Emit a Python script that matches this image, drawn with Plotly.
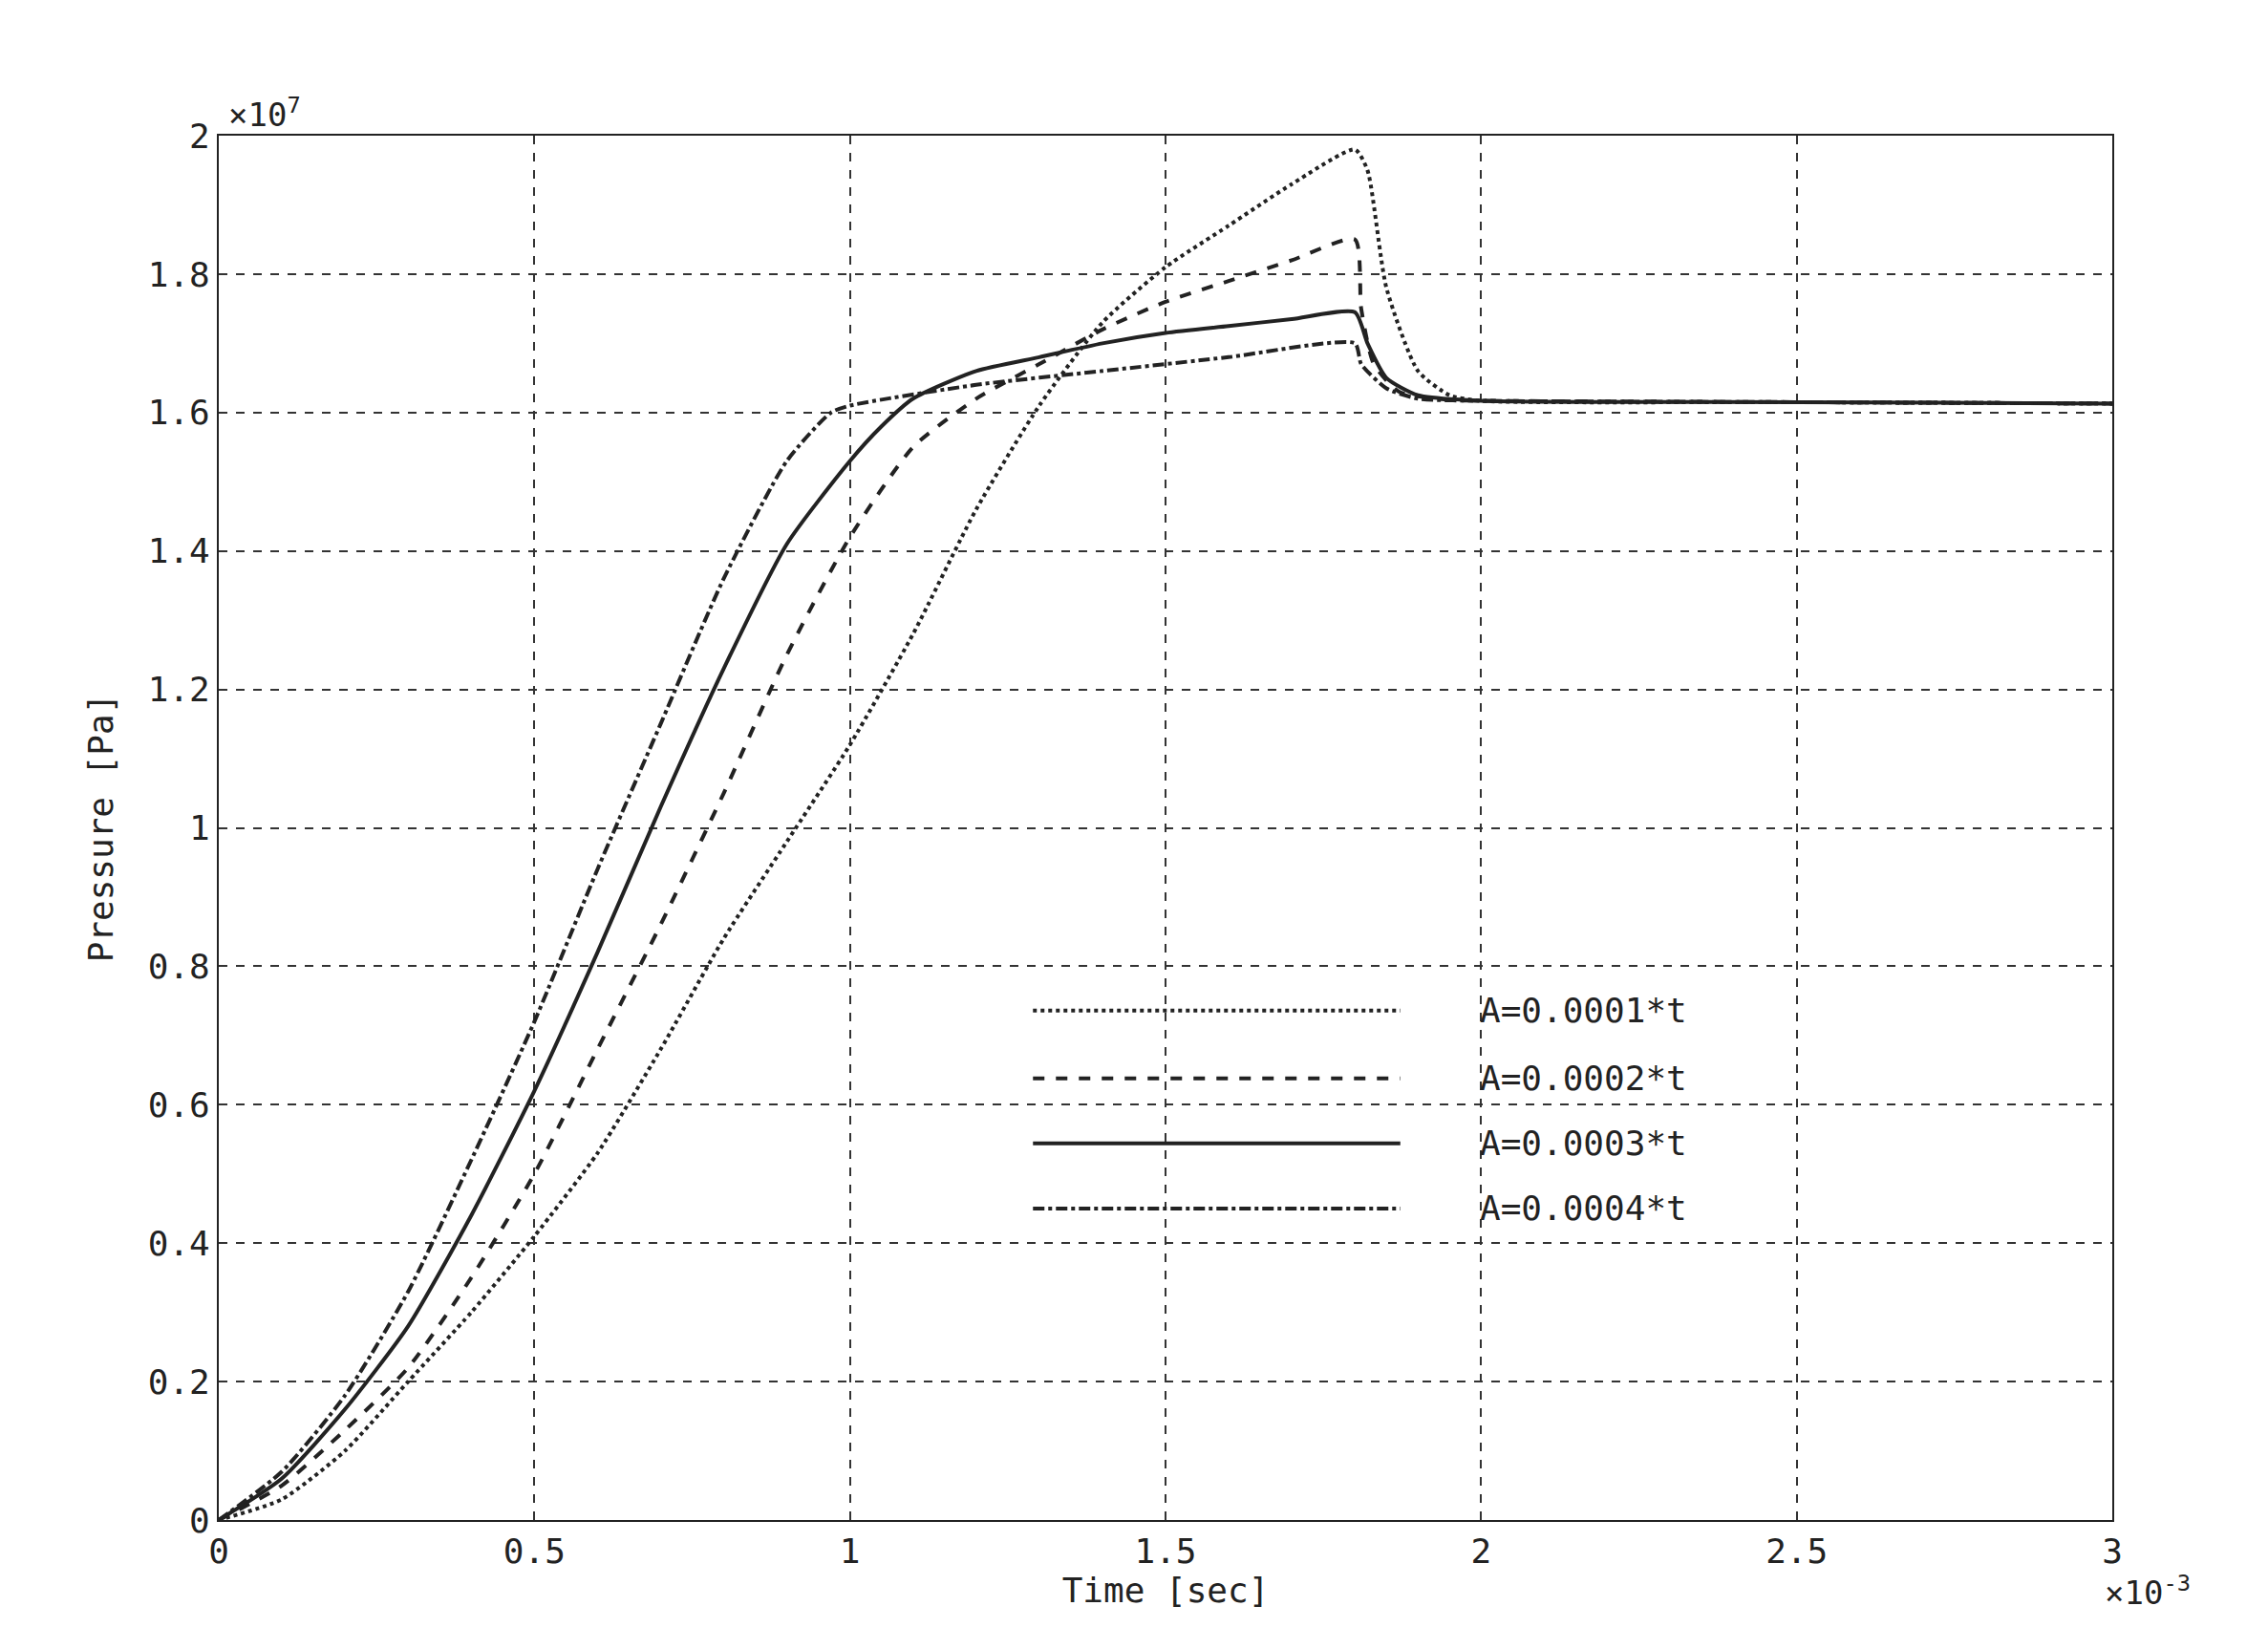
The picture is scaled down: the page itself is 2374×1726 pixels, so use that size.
import plotly.graph_objects as go

# time in 1e-3 s, pressure in 1e7 Pa
t1 = [0, 0.1, 0.2, 0.3, 0.4, 0.5, 0.6, 0.7, 0.8, 0.9, 1.0, 1.1, 1.2, 1.3, 1.4, 1.5, 1.6, 1.7, 1.8, 1.82, 1.85, 1.9, 1.95, 2.0, 2.5, 3.0]
p1 = [0, 0.03, 0.1, 0.2, 0.3, 0.41, 0.53, 0.68, 0.84, 0.98, 1.12, 1.28, 1.46, 1.61, 1.73, 1.81, 1.87, 1.93, 1.98, 1.95, 1.78, 1.66, 1.625, 1.617, 1.615, 1.613]

t2 = [0, 0.1, 0.2, 0.3, 0.4, 0.5, 0.6, 0.7, 0.8, 0.9, 1.0, 1.1, 1.2, 1.3, 1.4, 1.5, 1.6, 1.7, 1.8, 1.81, 1.83, 1.87, 1.95, 2.0, 2.5, 3.0]
p2 = [0, 0.05, 0.13, 0.22, 0.35, 0.5, 0.68, 0.86, 1.05, 1.25, 1.42, 1.55, 1.62, 1.67, 1.72, 1.76, 1.79, 1.82, 1.85, 1.75, 1.67, 1.63, 1.618, 1.617, 1.615, 1.613]

t3 = [0, 0.1, 0.2, 0.3, 0.4, 0.5, 0.6, 0.7, 0.8, 0.9, 1.0, 1.05, 1.1, 1.2, 1.3, 1.4, 1.5, 1.6, 1.7, 1.8, 1.82, 1.85, 1.9, 2.0, 2.5, 3.0]
p3 = [0, 0.06, 0.16, 0.28, 0.44, 0.62, 0.82, 1.03, 1.23, 1.41, 1.53, 1.58, 1.62, 1.66, 1.68, 1.70, 1.715, 1.725, 1.735, 1.745, 1.70, 1.65, 1.625, 1.617, 1.615, 1.613]

t4 = [0, 0.1, 0.2, 0.3, 0.4, 0.5, 0.6, 0.7, 0.8, 0.9, 0.97, 1.0, 1.2, 1.4, 1.6, 1.8, 1.81, 1.85, 1.9, 2.0, 2.5, 3.0]
p4 = [0, 0.07, 0.18, 0.33, 0.52, 0.72, 0.94, 1.15, 1.36, 1.53, 1.6, 1.61, 1.64, 1.66, 1.68, 1.70, 1.67, 1.635, 1.62, 1.617, 1.615, 1.613]

labels = ["A=0.0001*t", "A=0.0002*t", "A=0.0003*t", "A=0.0004*t"]
dashes = ["dot", "dash", "solid", "dashdot"]
series = [(t1, p1), (t2, p2), (t3, p3), (t4, p4)]

x_ticks = [0, 0.5, 1, 1.5, 2, 2.5, 3]
x_labels = ["0", "0.5", "1", "1.5", "2", "2.5", "3"]
y_ticks = [0, 0.2, 0.4, 0.6, 0.8, 1, 1.2, 1.4, 1.6, 1.8, 2]
y_labels = ["0", "0.2", "0.4", "0.6", "0.8", "1", "1.2", "1.4", "1.6", "1.8", "2"]

FONT = "DejaVu Sans Mono"
fig = go.Figure()
for (t, p), d, name in zip(series, dashes, labels):
    fig.add_trace(go.Scatter(x=t, y=p, mode="lines", name=name, showlegend=False,
                             line=dict(color="#222", width=4, dash=d, shape="spline", smoothing=0.6)))

# hand-made legend
leg_y = [0.368, 0.319, 0.272, 0.225]
for d, name, y in zip(dashes, labels, leg_y):
    fig.add_shape(type="line", xref="paper", yref="paper", x0=0.43, x1=0.624, y0=y, y1=y,
                  line=dict(color="#222", width=4, dash=d))
    fig.add_annotation(xref="paper", yref="paper", x=0.665, y=y, text=name, showarrow=False,
                       xanchor="left", yanchor="middle", font=dict(family=FONT, size=36, color="#222"))

fig.add_annotation(xref="paper", yref="paper", x=0.0, y=1.0, xshift=8, text="×10<sup>7</sup>",
                   showarrow=False, xanchor="left", yanchor="bottom", font=dict(family=FONT, size=34, color="#222"))
fig.add_annotation(xref="paper", yref="paper", x=1.0, y=0, yshift=-50, xshift=-10, text="×10<sup>-3</sup>",
                   showarrow=False, xanchor="left", yanchor="top", font=dict(family=FONT, size=34, color="#222"))

axis = dict(showgrid=True, gridcolor="#333", griddash="dash", gridwidth=1.5, showline=True, mirror=True,
            linecolor="#222", linewidth=2, zeroline=False, ticks="", tickfont=dict(family=FONT, size=36, color="#222"))
fig.update_xaxes(range=[0, 3], tickvals=x_ticks, ticktext=x_labels,
                 title=dict(text="Time [sec]", standoff=0, font=dict(family=FONT, size=36, color="#222")), **axis)
fig.update_yaxes(range=[0, 2], tickvals=y_ticks, ticktext=y_labels,
                 title=dict(text="Pressure [Pa]", standoff=25, font=dict(family=FONT, size=36, color="#222")), **axis)
fig.update_layout(width=2374, height=1726, paper_bgcolor="white", plot_bgcolor="white",
                  margin=dict(l=221, r=171, t=134, b=143))
fig.write_html("out.html")
